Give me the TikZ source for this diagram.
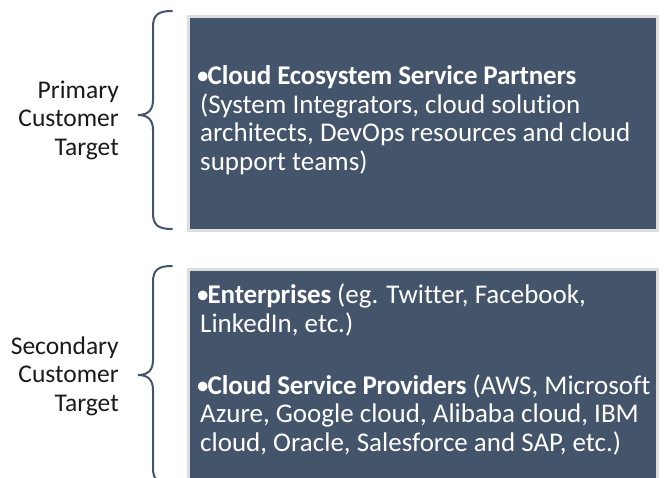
\documentclass[tikz,border=0pt]{standalone}
\usepackage{fontspec}
\setmainfont{Carlito}[Ligatures=NoCommon]
\definecolor{slate}{HTML}{44546A}
\definecolor{rim}{HTML}{DEDEDE}
\definecolor{ink}{HTML}{1A1A1A}
% bullet in a narrow box, bold heads set a touch tighter
\newcommand\bul{\hspace*{-1pt}\makebox[11.5pt][l]{•}}
\newcommand\hd[1]{\textbf{\addfontfeature{LetterSpace=-0.7}#1}}
\begin{document}
\begin{tikzpicture}[x=1pt,y=-1pt,
  panel/.style={fill=slate, draw=rim, line width=3pt, anchor=north west,
    minimum width=469pt, inner sep=0pt},
  % base anchor of a multi-line node sits on its last line
  paneltext/.style={text=white, align=left, anchor=base west, inner sep=0pt,
    font=\fontsize{27}{28.5}\selectfont},
  lbl/.style={text=ink, align=right, anchor=base east, inner sep=0pt,
    font=\fontsize{25.5}{28.5}\selectfont},
  curly/.style={draw=slate, line width=2pt, line cap=round}]
\useasboundingbox (0,0) rectangle (666,477);
\clip (0,0) rectangle (666,477);

% primary group
\node[panel, minimum height=214pt] (p1) at (186.5,14.5) {};
\node[paneltext] (t1) at (197,170)
  {\bul\hd{Cloud Ecosystem Service Partners}\\
   \hspace*{3pt}(System Integrators, cloud solution\\
   \hspace*{3pt}architects, DevOps resources and cloud\\
   \hspace*{3pt}support teams)};
\node[lbl] (l1) at (119,155) {Primary\\Customer\\Target};
\coordinate (b1top) at (172,11);
\coordinate (b1tip) at (138,115);
\coordinate (b1bot) at (172,229);
\draw[curly] (b1top) .. controls (158,11) and (153,15) .. (153,27) -- (153,100)
  .. controls (153,110) and (148,115) .. (b1tip)
  .. controls (148,115) and (153,120) .. (153,130) -- (153,213)
  .. controls (153,225) and (158,229) .. (b1bot);

% secondary group
\node[panel, minimum height=216pt] (p2) at (186.5,267.5) {};
\node[paneltext] (t2) at (197,451)
  {\bul\hd{Enterprises} (eg. Twitter, Facebook,\\
   \hspace*{3pt}LinkedIn, etc.)\\[33.5pt]
   \bul\hd{Cloud Service Providers} (AWS, Microsoft\\
   \hspace*{3pt}Azure, Google cloud, Alibaba cloud, IBM\\
   \hspace*{3pt}cloud, Oracle, Salesforce and SAP, etc.)};
\node[lbl] (l2) at (119,411) {Secondary\\Customer\\Target};
\coordinate (b2top) at (172,266);
\coordinate (b2tip) at (138,375);
\coordinate (b2bot) at (172,484);
\draw[curly] (b2top) .. controls (158,266) and (153,270) .. (153,282) -- (153,360)
  .. controls (153,370) and (148,375) .. (b2tip)
  .. controls (148,375) and (153,380) .. (153,390) -- (153,468)
  .. controls (153,480) and (158,484) .. (b2bot);
\end{tikzpicture}
\end{document}
